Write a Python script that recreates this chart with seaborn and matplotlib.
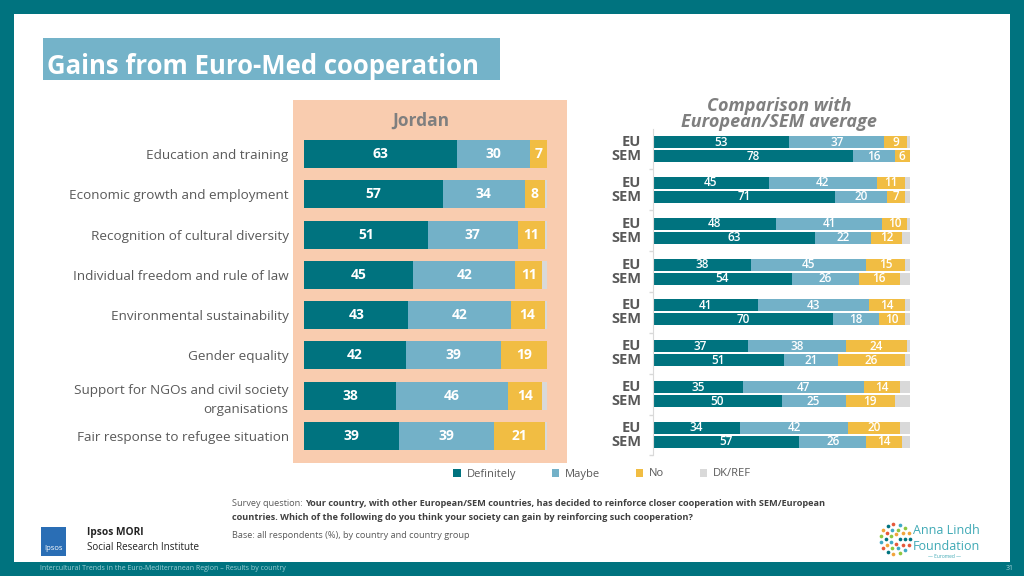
import numpy as np
import pandas as pd
import seaborn as sns
import matplotlib.pyplot as plt
from matplotlib.patches import Rectangle, Patch

categories = [
    "Education and training",
    "Economic growth and employment",
    "Recognition of cultural diversity",
    "Individual freedom and rule of law",
    "Environmental sustainability",
    "Gender equality",
    "Support for NGOs and civil society\norganisations",
    "Fair response to refugee situation",
]

jordan_def = [63, 57, 51, 45, 43, 42, 38, 39]
jordan_maybe = [30, 34, 37, 42, 42, 39, 46, 39]
jordan_no = [7, 8, 11, 11, 14, 19, 14, 21]
jordan_dk = [0, 1, 1, 2, 1, 0, 2, 1]

eu_def = [53, 45, 48, 38, 41, 37, 35, 34]
eu_maybe = [37, 42, 41, 45, 43, 38, 47, 42]
eu_no = [9, 11, 10, 15, 14, 24, 14, 20]
eu_dk = [1, 2, 1, 2, 2, 1, 4, 4]

sem_def = [78, 71, 63, 54, 70, 51, 50, 57]
sem_maybe = [16, 20, 22, 26, 18, 21, 25, 26]
sem_no = [6, 7, 12, 16, 10, 26, 19, 14]
sem_dk = [0, 2, 3, 4, 2, 2, 6, 3]

regions = ["EU", "SEM"]
legend_labels = ["Definitely", "Maybe", "No", "DK/REF"]

TEAL = "#00737F"
BLUE = "#73B1C8"
YELLOW = "#F1BD43"
GREY = "#D9D9D9"
TXT = "#595959"
TITLE_GREY = "#7F7F7F"

W, H = 1024, 576


def fx(px):
    return px / W


def fy(py):
    return 1 - py / H


def frame(defs, maybes, nos, dks, **extra):
    df = pd.DataFrame({"category": categories, "def": defs, "maybe": maybes,
                       "no": nos, "dk": dks, **extra})
    df["maybe_cum"] = df["def"] + df["maybe"]
    df["no_cum"] = df["maybe_cum"] + df["no"]
    df["total"] = df["no_cum"] + df["dk"]
    return df


left = frame(jordan_def, jordan_maybe, jordan_no, jordan_dk)
right = pd.concat([
    frame(eu_def, eu_maybe, eu_no, eu_dk, region="EU"),
    frame(sem_def, sem_maybe, sem_no, sem_dk, region="SEM"),
], ignore_index=True)

layers = [("total", GREY), ("no_cum", YELLOW), ("maybe_cum", BLUE), ("def", TEAL)]

sns.set_theme(style="white")
plt.rcParams["font.family"] = ["Open Sans", "DejaVu Sans"]

fig = plt.figure(figsize=(10.24, 5.76), dpi=100, facecolor=TEAL)

# white slide area and decorations
fig.add_artist(Rectangle((fx(14), fy(562)), 996 / W, 548 / H, transform=fig.transFigure,
                         facecolor="white", edgecolor="none", zorder=-3))
fig.add_artist(Rectangle((fx(43), fy(80)), 457 / W, 42 / H, transform=fig.transFigure,
                         facecolor="#74B3C9", edgecolor="none", zorder=-2))
fig.text(fx(47), fy(66), "Gains from Euro-Med cooperation", color="white",
         fontsize=18.5, fontweight="bold", va="center", ha="left")
fig.add_artist(Rectangle((fx(293), fy(463)), 274 / W, 363 / H, transform=fig.transFigure,
                         facecolor="#F9CCAF", edgecolor="none", zorder=-2))

# ---- Jordan
ax1 = fig.add_axes([fx(304), fy(456.1), 243 / W, 322.2 / H])
ax1.set_facecolor("none")
for col, c in layers:
    sns.barplot(data=left, x=col, y="category", color=c, width=0.695, saturation=1,
                errorbar=None, linewidth=0, ax=ax1)
ax1.set_xlim(0, 100)
ax1.set_xlabel("")
ax1.set_ylabel("")
ax1.set_xticks([])
for s in ax1.spines.values():
    s.set_visible(False)
ax1.tick_params(axis="y", length=0, pad=11, labelsize=9.7, labelcolor=TXT)
for lab in ax1.get_yticklabels():
    lab.set_linespacing(1.55)
for i, row in left.iterrows():
    for start, val in [(0, row["def"]), (row["def"], row["maybe"]), (row["maybe_cum"], row["no"])]:
        ax1.text(start + val / 2, i, str(val), ha="center", va="center", color="white",
                 fontsize=10, fontweight="bold")
fig.text(fx(421), fy(121), "Jordan", ha="center", va="center", fontsize=12.5,
         fontweight="bold", color=TITLE_GREY)

# ---- EU / SEM comparison
width2 = 0.685
ax2 = fig.add_axes([fx(653), fy(455.4), 257 / W, 326.8 / H])
ax2.set_facecolor("none")
for col, c in layers:
    sns.barplot(data=right, x=col, y="category", hue="region", hue_order=regions,
                palette={r: c for r in regions}, width=width2, gap=0.14, saturation=1,
                errorbar=None, linewidth=0, legend=False, ax=ax2)
ax2.set_xlim(0, 100)
ax2.set_xlabel("")
ax2.set_ylabel("")
ax2.set_xticks([])
ax2.set_yticklabels([])
for k, s in ax2.spines.items():
    s.set_visible(k == "left")
ax2.spines["left"].set_color(GREY)
ax2.spines["left"].set_linewidth(0.8)
ax2.tick_params(axis="y", which="major", length=0)
ax2.set_yticks(np.arange(len(categories)) + 0.5, minor=True)
ax2.tick_params(axis="y", which="minor", length=3, color=GREY, direction="out", left=True)

for _, row in right.iterrows():
    i = categories.index(row["category"])
    y = i + (-width2 / 4 if row["region"] == "EU" else width2 / 4)
    for start, val in [(0, row["def"]), (row["def"], row["maybe"]), (row["maybe_cum"], row["no"])]:
        ax2.text(start + val / 2, y, str(val), ha="center", va="center", color="white",
                 fontsize=8.5, fontweight="semibold")
    ax2.text(-0.045, y, row["region"], transform=ax2.get_yaxis_transform(), ha="right",
             va="center", fontsize=10.5, fontweight="bold", color=TXT)

fig.text(fx(779), fy(106), "Comparison with", ha="center", va="center", fontsize=13,
         fontweight="bold", style="italic", color=TITLE_GREY)
fig.text(fx(779), fy(122), "European/SEM average", ha="center", va="center", fontsize=13,
         fontweight="bold", style="italic", color=TITLE_GREY)

# legend
handles = [Patch(facecolor=c, edgecolor="none") for c in [TEAL, BLUE, YELLOW, GREY]]
fig.legend(handles, legend_labels, loc="center", bbox_to_anchor=(fx(602), fy(474)), ncol=4,
           frameon=False, fontsize=8, handlelength=0.7, handleheight=0.7,
           columnspacing=3.2, handletextpad=0.5, labelcolor=TXT)

# footer
renderer = fig.canvas.get_renderer()
t = fig.text(fx(232), fy(504), "Survey question: ", fontsize=6.6, color=TXT, va="center")
bb = t.get_window_extent(renderer)
fig.text(bb.x1 / W, fy(504), "Your country, with other European/SEM countries, has decided to "
         "reinforce closer cooperation with SEM/European", fontsize=6.6, color="#404040",
         fontweight="bold", va="center")
fig.text(fx(232), fy(517), "countries. Which of the following do you think your society can gain "
         "by reinforcing such cooperation?", fontsize=6.6, color="#404040", fontweight="bold",
         va="center")
fig.text(fx(232), fy(535), "Base: all respondents (%), by country and country group",
         fontsize=6.6, color=TXT, va="center")

# Ipsos logo block
fig.add_artist(Rectangle((fx(41), fy(556)), 25 / W, 29 / H, transform=fig.transFigure,
                         facecolor="#2A6EB5", edgecolor="none"))
fig.text(fx(53.5), fy(549), "Ipsos", color="white", fontsize=5.5, ha="center", va="center")
fig.text(fx(87), fy(533), "Ipsos MORI", color="#222222", fontsize=7.3, va="center",
         fontweight="bold")
fig.text(fx(87), fy(548), "Social Research Institute", color="#222222", fontsize=7.1,
         va="center")

# Anna Lindh logo block
lax = fig.add_axes([fx(876), fy(558), 38 / W, 38 / H])
lax.set_xlim(-1, 1)
lax.set_ylim(-1, 1)
lax.axis("off")
dot_cols = ["#00737F", "#F1A43C", "#8DC63F", "#3FA9C5", "#E5583A"]
k = 0
for r, n in [(0.25, 5), (0.5, 10), (0.78, 15)]:
    for a in np.linspace(0, 2 * np.pi, n, endpoint=False):
        lax.scatter(r * np.cos(a), r * np.sin(a), s=7, color=dot_cols[k % 5], linewidths=0)
        k += 1
fig.text(fx(913), fy(531), "Anna Lindh", color="#3FA9B5", fontsize=9, va="center")
fig.text(fx(913), fy(547), "Foundation", color="#3FA9B5", fontsize=9, va="center")
fig.text(fx(944), fy(557), "— Euromed —", color="#3FA9B5", fontsize=3.5, va="center",
         ha="center")

# bottom band
fig.text(fx(40), fy(569), "Intercultural Trends in the Euro-Mediterranean Region \u2013 "
         "Results by country", color="#9FD0D6", fontsize=5, va="center")
fig.text(fx(1014), fy(569), "31", color="#9FD0D6", fontsize=5, va="center", ha="right")

fig.savefig("out.png", dpi=100, facecolor=fig.get_facecolor())
